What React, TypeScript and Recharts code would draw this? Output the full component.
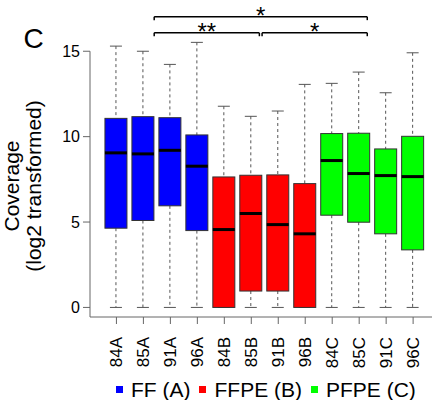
import React from "react";
import { ComposedChart, Bar, XAxis, YAxis, ReferenceLine, ReferenceDot } from "recharts";

const FONT = "'Liberation Sans', Arial, Helvetica, sans-serif";

// per-sample coverage distribution (log2)
const samples = ["84A", "85A", "91A", "96A", "84B", "85B", "91B", "96B", "84C", "85C", "91C", "96C"];
const groups = ["A", "A", "A", "A", "B", "B", "B", "B", "C", "C", "C", "C"];
const whiskerLow = [0, 0, 0, 0, 0, 0, 0, 0, 0, 0, 0, 0];
const q1 = [4.64, 5.09, 5.95, 4.5, 0, 0.96, 0.96, 0, 5.4, 4.99, 4.31, 3.37];
const medians = [9.05, 8.99, 9.2, 8.27, 4.56, 5.5, 4.85, 4.31, 8.6, 7.84, 7.72, 7.66];
const q3 = [11.07, 11.17, 11.11, 10.1, 7.64, 7.74, 7.76, 7.25, 10.18, 10.2, 9.28, 10.02];
const whiskerHigh = [15.3, 15.0, 14.23, 15.52, 11.78, 11.19, 11.5, 13.06, 13.12, 13.78, 12.57, 14.91];

const legendGroups = ["A", "B", "C"];
const legendNames = ["FF (A)", "FFPE (B)", "PFPE (C)"];
const yTicks = [0, 5, 10, 15];

// significance brackets between groups (x in sample-index units)
const bracketFrom = [1.4, 5.4, 1.4];
const bracketTo = [5.3, 9.3, 9.3];
const bracketLabels = ["**", "*", "*"];
const bracketTier = [0, 0, 1];

const groupColors: Record<string, string> = { A: "#0000FF", B: "#FF0000", C: "#00FF00" };

const data = samples.map((name, i) => ({
  i,
  name,
  group: groups[i],
  low: whiskerLow[i],
  q1: q1[i],
  median: medians[i],
  q3: q3[i],
  high: whiskerHigh[i],
}));

const X_MIN = -0.98;
const Y_MIN = -0.56;

function BoxShape(props: any) {
  const { x, y, width, height, payload } = props;
  const { low, high } = payload;
  const k = height / (high - low);
  const py = (v: number) => y + (high - v) * k;
  const cx = x + width / 2;
  const whisk = { stroke: "#555", strokeWidth: 1 };
  return (
    <g>
      <line x1={cx} x2={cx} y1={py(high)} y2={py(payload.q3)} {...whisk} strokeDasharray="3 3" />
      <line x1={cx} x2={cx} y1={py(payload.q1)} y2={py(low)} {...whisk} strokeDasharray="3 3" />
      <line x1={cx - 6} x2={cx + 6} y1={py(high)} y2={py(high)} {...whisk} />
      <line x1={cx - 6} x2={cx + 6} y1={py(low)} y2={py(low)} {...whisk} />
      <rect
        x={x}
        y={py(payload.q3)}
        width={width}
        height={py(payload.q1) - py(payload.q3)}
        fill={groupColors[payload.group]}
        stroke="#333"
        strokeWidth={1}
      />
      <line x1={x} x2={x + width} y1={py(payload.median)} y2={py(payload.median)} stroke="#000" strokeWidth={3} />
    </g>
  );
}

function XTick({ x, y, payload }: any) {
  return (
    <text
      x={x}
      y={y}
      transform={`rotate(-90 ${x} ${y})`}
      textAnchor="end"
      dy="0.35em"
      fontSize={17}
      fill="#000"
    >
      {samples[payload.value]}
    </text>
  );
}

function YLabel({ viewBox }: any) {
  const vb = viewBox || { x: 0, y: 41, height: 276 };
  const cy = vb.y + vb.height / 2 + 7;
  const x1 = vb.x + 19;
  const x2 = vb.x + 41;
  return (
    <g fontSize={21} fill="#000">
      <text x={x1} y={cy} transform={`rotate(-90 ${x1} ${cy})`} textAnchor="middle">Coverage</text>
      <text x={x2} y={cy} transform={`rotate(-90 ${x2} ${cy})`} textAnchor="middle">(log2 transformed)</text>
    </g>
  );
}

export default function App() {
  const tierY = [16.08, 17.02];
  return (
    <div style={{ position: "absolute", left: 0, top: 0, width: 433, height: 400, fontFamily: FONT, background: "#fff" }}>
      <div style={{ position: "absolute", left: 23.5, top: 25.3, fontSize: 28, lineHeight: "28px" }}>C</div>
      <ComposedChart width={433} height={400} data={data} margin={{ top: 41, right: 1, bottom: 0, left: 0 }}>
        <XAxis
          dataKey="i"
          type="number"
          domain={[X_MIN, 11.7]}
          ticks={samples.map((_, i) => i)}
          interval={0}
          tick={XTick}
          tickSize={7}
          tickMargin={13}
          height={83}
          axisLine={{ stroke: "#666" }}
          tickLine={{ stroke: "#666" }}
        />
        <YAxis
          type="number"
          domain={[Y_MIN, 15.6]}
          ticks={yTicks}
          width={90}
          axisLine={false}
          tickLine={{ stroke: "#666" }}
          tickSize={7}
          tickMargin={3}
          tick={{ fontSize: 16, fill: "#000" }}
          label={YLabel}
        />
        <ReferenceLine
          segment={[{ x: X_MIN, y: 15 }, { x: X_MIN, y: Y_MIN }]}
          stroke="#666"
          ifOverflow="visible"
        />
        <Bar dataKey={(d: any) => [d.low, d.high]} shape={BoxShape} barSize={22} isAnimationActive={false} />
        {bracketLabels.map((lab, b) => {
          const ly = tierY[bracketTier[b]];
          const from = bracketFrom[b];
          const to = bracketTo[b];
          return (
            <React.Fragment key={b}>
              <ReferenceLine segment={[{ x: from, y: ly }, { x: to, y: ly }]} stroke="#000" strokeWidth={1.5} ifOverflow="visible" />
              <ReferenceLine segment={[{ x: from, y: ly }, { x: from, y: ly - 0.2 }]} stroke="#000" strokeWidth={1.5} ifOverflow="visible" />
              <ReferenceLine segment={[{ x: to, y: ly }, { x: to, y: ly - 0.2 }]} stroke="#000" strokeWidth={1.5} ifOverflow="visible" />
              <ReferenceDot
                x={(from + to) / 2}
                y={ly + 0.1}
                r={0}
                fill="none"
                stroke="none"
                ifOverflow="visible"
                label={{ value: lab, position: "center", fontSize: 24, fill: "#000" }}
              />
            </React.Fragment>
          );
        })}
      </ComposedChart>
      <div
        style={{
          position: "absolute",
          left: 116,
          top: 379,
          display: "flex",
          alignItems: "center",
          fontSize: 21,
          lineHeight: "21px",
          whiteSpace: "nowrap",
        }}
      >
        {legendGroups.map((g, i) => (
          <div key={g} style={{ display: "flex", alignItems: "center", marginRight: 9 }}>
            <span style={{ display: "inline-block", width: 7, height: 7, background: groupColors[g], marginRight: 8 }} />
            <span>{legendNames[i]}</span>
          </div>
        ))}
      </div>
    </div>
  );
}
